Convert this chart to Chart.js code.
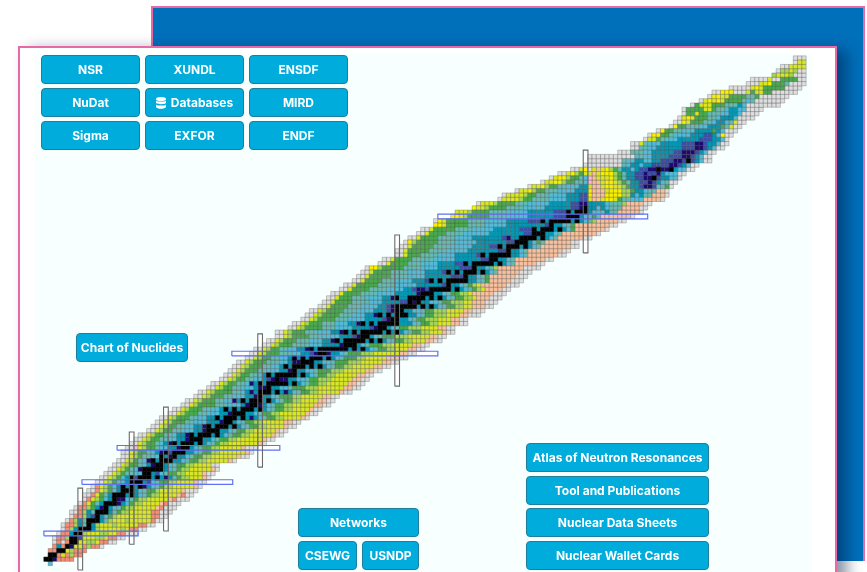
<!DOCTYPE html>
<html><head><meta charset="utf-8">
<script src="https://cdn.jsdelivr.net/npm/chart.js@4"></script>
<style>
html,body{margin:0;padding:0;background:#fff;width:867px;height:572px;overflow:hidden;font-family:Inter,"Liberation Sans",sans-serif}
.abs{position:absolute;box-sizing:border-box}
#back{left:151px;top:6px;width:714px;height:555px;background:#0070bb;border:2px solid #e76aa6;border-bottom:none}
#panel{left:18px;top:46px;width:819px;height:540px;background:#fff;border:2px solid #e76aa6;box-shadow:10px 4px 14px rgba(0,20,60,.45)}
#inner{left:35px;top:54px;width:777px;height:518px;background:#f7ffff}
canvas{position:absolute;left:0;top:0;filter:blur(.35px)}
.btn{position:absolute;box-sizing:border-box;background:#00acdc;border:1px solid #1d7f9b;border-radius:4px;color:#fff;font-weight:700;font-size:12px;display:flex;align-items:center;justify-content:center;white-space:nowrap;filter:blur(.2px)}
.btn svg{margin-right:5px}
</style></head><body>
<div class="abs" id="back"></div><div class="abs" id="panel"></div><div class="abs" id="inner"></div>
<canvas id="c" width="867" height="572"></canvas>
<div id="btns"></div>
<script>
// Neutron number of the first cell in each proton row (index = Z)
const rowStart=[1,0,1,1,2,2,2,3,4,4,5,6,6,7,8,9,9,10,11,12,13,14,15,16,17,18,18,19,20,21,22,24,25,26,27,29,30,32,33,35,36,38,39,41,42,43,44,45,47,48,49,51,52,54,54,57,58,60,61,62,64,65,66,67,69,70,72,73,74,75,78,79,82,82,83,84,85,87,88,91,91,95,96,100,101,106,107,110,113,116,118,120,123,126,127,127,134,137,137,140,141,143,146,147,148,149,149,151,153,155,156,160,164,165,170,171,172,175,175];
// Half-life colour class of each cell in each proton row
const rowCells=[
"c","kknrrrr","kkrlrarr","rrkklarrr","rtrknllrarro","ororkkllaalrroo","orrakkblllaalrroo","orrtkkalllaallrrooo","oratkkktalllllalrroo",
"orratskta"+"lllalllllrroo","oratskkktsalllalllllroo","orratbktcgallllllllrroo","ooratskkktsgaalllllrrooo","orragtnktcsgaalllllprooo","orlgstkkkntcgaallllprooo",
"orlagctknncsgaalllllprooo","oorlgstkkktktcsgaallllproo","oorlagctkkktcsggalllllpoo"+"o","orlagctktktkntcsgaalllllpo","oolagsctkkktbcsggaallllpoo",
"oolagctkbkkktktntsgaalllpo","oolagsscckktbcsggaallllpoo","oolagscnkkkkktcsgaalllllpo","oolaggsctnkktcsggaalllloo","oolagscnktkkkttcsggaalllllpo",
"oolagssccktnkttcsggaallllllpoo","oolaggsctnkbkkkttcsggaallllllpo","oowlaggsccttnkktcsggaalllllpoo"+"o","oolaggsctnktkkktktcsgaalllllllpo","oolaggssccttnkkkttcsggaallllllpoo",
"oolaggsscttnktkkktktcsggaalllllpoo","oolaggsscccttnkkkttcsggaalllllpoo","oolaggssccttnktkkktktcsggaallllpoo","oolagggssccctttnkktcsggaalllllppoo","oolagggsscctt"+"ktkkktktn"+"tcsggaallllpo",
"oolagggsscccttnkkkttcsggaallllllpoo","oolagggsscct"+"ktktkkktk"+"tcsggaallllpoo","oolaggggsssccctnkkntcsggaalllllppoo","oolagggssccnt"+"ktkkktk"+"tcsggaallllppoo","oolagggsscccttnkttcsgggaalllllppoo",
"oolaggggssctnt"+"kkktktn"+"tcsggaalllllpoo","oolaggssccctnnkttccsgggaaallllllppoo","oolaggsscnt"+"ktkkkkktk"+"tcsggaalllllppoo","oolaggsscctbn"+"knn"+"ttccsggaaalllllppoo","oolaggssct"+"ktkkkkktk"+"tcsggaalllllppoo",
"oolagggsscccttnkttccsgggaaalllllppoo","oolagggsscct"+"ktkkktktk"+"tcsggaalllllppoo","oolagggssscctnn"+"kkk"+"ttccsgggaaalllllppoo","oolaggsscct"+"ktktkkktk"+"tcsgggaalllllpppoo","oolagggsssccttbn"+"kkn"+"ttcsgggaaallllllppoo",
"oolaggssccttn"+"ktkkkkkkktktk"+"tcsggaalllppoo","oolagggsssscccttttn"+"kkk"+"tcsgggaalllllppoo","oolagggssscccttn"+"ktkkkkktktk"+"tcsggaalllppoo","oolaggggssscccctttbn"+"kk"+"tcsgggaaalllllppoo","oolagggssscccttn"+"ktktkkkkktktk"+"tcsggaalllpoo",
"oolaggggsssccccttttbn"+"kk"+"tcsggaaallllppoo","oolagggssscccttn"+"ktktkkkkk"+"tttcsggaalllppoo","oolaggggsssccccttttbn"+"kk"+"ttcsggaaalllppoo","oolaggggssscccttn"+"ktktkkk"+"ttcsggaaalllppooo","oolaggggssscccctttbn"+"kk"+"ttccsggaaallllppooo",
"oolggggsssccccttbn"+"kkkkktktk"+"tcsggaallpppoo","oolggggsssscccttttb"+"bknk"+"ttccsggaaallpppooo","oolgggsssccccttn"+"kttkkkktktk"+"tcsggaalpppooo","oolggggsssscccctttttn"+"kkk"+"ttcsggaalpppppooo","oolggggssssccccttbn"+"nbkkkkktk"+"tcsgalppppoo",
"oolgggggsssscccccttttttbk"+"ttcsgalppppppooo","oolggggssscccctttb"+"ktktkkkkk"+"ttcsgpppppooo","oolgggggssssccccttttttbbb"+"k"+"ttcsgppppppooo","oolggggssssccccttttb"+"ktktkkktk"+"tcspppppooo","oyyagggggsssscccctttttbbb"+"k"+"ttcsappppppoooo",
"oolggggsssccccttttbb"+"ktkkkkktk"+"tcspppppoo","oolggggssssscccccttttttbb"+"kk"+"ttcspppppppoo","oolgggsssscccctttttb"+"ktkkkkk"+"ttcspppppppoo","oolgggggssssccccctttttttbb"+"k"+"ttcsppppppppoo","oolgggggsssscccccttttbb"+"ktkkktk"+"tcspppppppoo",
"oyagggggssssccccctttttttbb"+"kkk"+"tcgsppppppoo","oolggggsssscccctttttttb"+"nttkkkktk"+"tcsppppppoo","oolggggssssccccccttttttttbb"+"kkk"+"ttcsppppppppo","oolgggggsssscccccttttttbbb"+"ktkkktk"+"tcgpppppppo","yylgggggssssccccctttttttttb"+"k"+"ttcsgppppppppoo",
"oylgggggssssccccctttttbbb"+"ktkkkkktk"+"tcsapppppoo","yylagggggsssscccccttttttbbb"+"kkk"+"tcsgspppppppo","lllaggggsssscccccttttttbbb"+"ktkkk"+"tccstsspppppo","yllaggggsssscccccttttttbbnkttctcsssppppoo","olllaggggsssccccctttttbbnnttttcsssappppoo",
"ollllaggsssscccctttbblpplyylgsscccppppo","ollllaggssscccctttbbypppyyyyaatctsspppo","ollyaggsssccccttt"+"yppplyyyaagttcssppo","ollyaggssccctt"+"lpplyyllagttbnnbcsgo","ollyyaggssc"+"wpplyylagsttbbnbtcsoo",
"olyyaggsc"+"wplllyagsttbbnnkbttcco","oolyagl"+"lplyyyagsttbbnbbntcccoo","ooly"+"olplyagsttctbbnnknnktccoo","ooooooooo"+"scttcttbbbbnnbtcoo","oooooooo"+"sccttccttbbbnnbkbtcoo",
"oooooooooo"+"ocsccttttbbbnnbtcoo","ooo"+"ssscctttttbbnnnbtcoo","oossccttttttbbbnnbtcoo","oolsccctttttbbbnnbttcoo","ollgsccctttttbbbttco",
"oyyggscccctttbbtcyoo","oyggsscccttttgtcooo","oyggssscctttgsloo","ooylgggsscttcsloo","olylgggssctttcoooo",
"ogglggsssccttcoooo","oggggllgsscttccoooo","oglllgggssstcoooooooo","olylylggggscsooooooo","oyyllggggssgooooooo",
"ooyyyooolgllggoooooo","ooooolylgggggoooo","ooollygggsoooo","oooolooggggoo","alllaooo","oaalaoo","oollll","oll","ooo"];
const classCodes=["o","r","p","w","y","l","a","g","s","c","t","b","n","k"];
const classColors=["#dedede","#f48d74","#f8c09c","#f5b9dc","#f8f000","#d8e628","#a3d658","#48aa4c","#66bab0","#52bcd8","#0497b4","#3c50a8","#1d0a70","#000000"];
// Magic-number guide boxes: [number, from, to] in chart units
const magicNeutron=[[8,-1.5,17.6],[20,4.5,30.7],[28,7.6,36.5],[50,22.5,53.6],[82,41.4,76.7],[126,72.5,96.5]];
const magicProton=[[7,-0.5,21.5],[19,8.4,43.6],[27,16.6,54.6],[49,43.4,91.5],[81,91.5,140.5]];
// Buttons: label,left,top,width,height
const buttonLabels=["NSR","XUNDL","ENSDF","NuDat","Databases","MIRD","Sigma","EXFOR","ENDF","Chart of Nuclides","Networks","CSEWG","USNDP","Atlas of Neutron Resonances","Tool and Publications","Nuclear Data Sheets","Nuclear Wallet Cards"];
const buttonBoxes=[[41,55,99,29],[145,55,99,29],[249,55,99,29],[41,88,99,29],[145,88,99,29],[249,88,99,29],[41,121,99,29],[145,121,99,29],[249,121,99,29],[76,333,112,29],[298,508,121,29],[298,541,59,29],[362,541,57,29],[526,443,183,29],[526,476,183,29],[526,508,183,29],[526,541,183,29]];

const cellSets=classCodes.map((code,i)=>({type:"scatter",label:code,data:[],pointStyle:"rect",pointRadius:3.03,pointBorderWidth:.55,
  pointBorderColor:code==="k"?"#000":"rgba(60,60,60,.5)",backgroundColor:classColors[i],pointBackgroundColor:classColors[i],order:50-i,clip:false}));
rowCells.forEach((s,z)=>{[...s].forEach((c,j)=>{cellSets[classCodes.indexOf(c)].data.push({x:rowStart[z]+j,y:z});});});
function boxV(m){const a=m[0]-.55,b=m[0]+.55;return[{x:a,y:m[1]},{x:b,y:m[1]},{x:b,y:m[2]},{x:a,y:m[2]},{x:a,y:m[1]}];}
function boxH(m){const a=m[0]-.55,b=m[0]+.55;return[{x:m[1],y:a},{x:m[2],y:a},{x:m[2],y:b},{x:m[1],y:b},{x:m[1],y:a}];}
const guide=[];
magicNeutron.forEach(m=>{const d=boxV(m);
  guide.push({type:"scatter",data:d,showLine:true,pointRadius:0,borderWidth:0,backgroundColor:"#fff",fill:"shape",order:90,clip:false});
  guide.push({type:"scatter",data:d,showLine:true,pointRadius:0,borderWidth:1.1,borderColor:"#6a6a6a",fill:false,order:1,clip:false});});
magicProton.forEach(m=>{const d=boxH(m);
  guide.push({type:"scatter",data:d,showLine:true,pointRadius:0,borderWidth:0,backgroundColor:"#fff",fill:"shape",order:90,clip:false});
  guide.push({type:"scatter",data:d,showLine:true,pointRadius:0,borderWidth:1.2,borderColor:"#5f73f0",fill:false,order:1,clip:false});});
new Chart(document.getElementById("c"),{type:"scatter",data:{datasets:[...cellSets,...guide]},
 options:{responsive:false,animation:false,devicePixelRatio:1,
  layout:{padding:{left:46,right:63,top:58,bottom:8.5}},
  plugins:{legend:{display:false},tooltip:{enabled:false},title:{display:false}},
  scales:{x:{type:"linear",min:0,max:177,display:false},y:{type:"linear",min:0,max:118,display:false}}}});
const host=document.getElementById("btns");
const dbIcon='<svg width="10" height="12" viewBox="0 0 10 12"><g fill="#fff"><ellipse cx="5" cy="2" rx="5" ry="2"/><path d="M0 3.4C1 5 9 5 10 3.4V6C9 7.6 1 7.6 0 6z"/><path d="M0 7.4C1 9 9 9 10 7.4V10C9 12.4 1 12.4 0 10z"/></g></svg>';
buttonLabels.forEach((t,i)=>{const b=buttonBoxes[i],d=document.createElement("div");d.className="btn";
 d.style.cssText=`left:${b[0]}px;top:${b[1]}px;width:${b[2]}px;height:${b[3]}px`;
 d.innerHTML=(t==="Databases"?dbIcon:"")+"<span>"+t+"</span>";host.appendChild(d);});
</script></body></html>
